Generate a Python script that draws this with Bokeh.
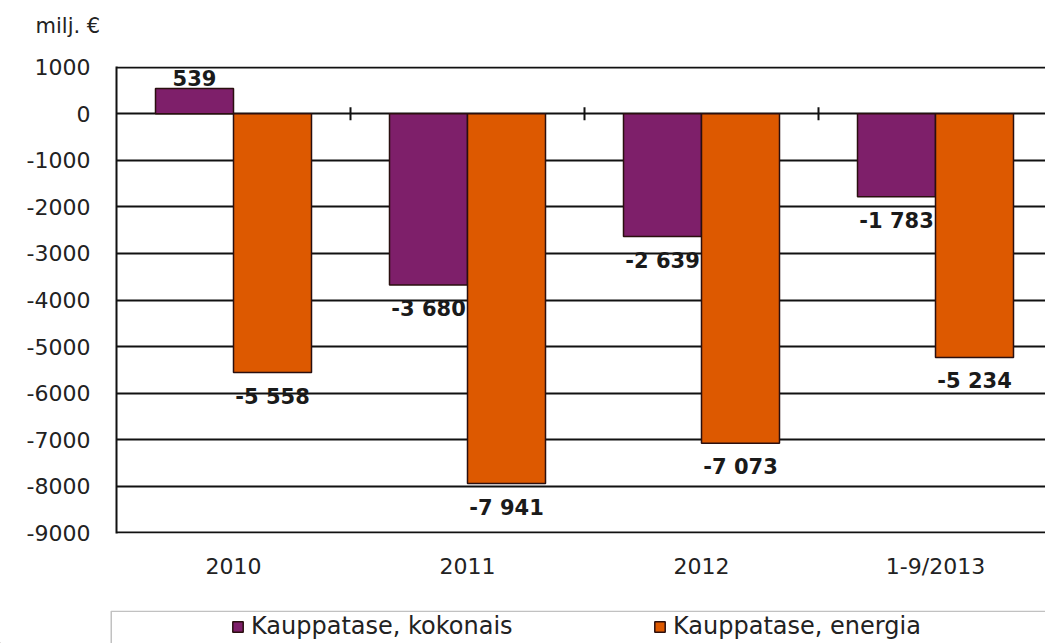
import numpy as np
from bokeh.plotting import figure
from bokeh.layouts import column
from bokeh.models import (Range1d, FixedTicker, Legend, LegendItem, Label,
                          BoxAnnotation, ColumnDataSource)
from bokeh.embed import file_html
from bokeh.resources import INLINE

# ---- data ----
categories = ["2010", "2011", "2012", "1-9/2013"]
series_names = ["Kauppatase, kokonais", "Kauppatase, energia"]
kokonais = [539, -3680, -2639, -1783]
energia = [-5558, -7941, -7073, -5234]
y_ticks = list(range(-9000, 1001, 1000))
unit_label = "milj. €"

colors = ["#7e1f6a", "#dd5900"]
FONT = "DejaVu Sans"
TXT = "#222222"
FS = "22px"

W = 1045
H_TOP, H_MAIN, H_LEG = 44, 566, 33
LEFT, TOP, BOTTOM = 116, 22, 77
cat_px = 234
frame_w = W - LEFT
pad = 12  # small y padding so the end grid lines are drawn


def strip(height):
    f = figure(width=W, height=height, output_backend="svg", toolbar_location=None,
               x_range=Range1d(0, W), y_range=Range1d(0, height),
               x_axis_type=None, y_axis_type=None,
               min_border_left=0, min_border_right=0,
               min_border_top=0, min_border_bottom=0)
    f.frame_align = False
    f.outline_line_color = None
    f.grid.grid_line_color = None
    f.background_fill_color = "white"
    f.border_fill_color = "white"
    return f

# ---- unit label strip ----
t = strip(H_TOP)
t.add_layout(Label(x=35, y=H_TOP - 25, text=unit_label, text_font=FONT,
                   text_font_size="21px", text_color=TXT, text_baseline="middle"))

# ---- main chart ----
p = figure(width=W, height=H_MAIN, output_backend="svg", toolbar_location=None,
           x_range=Range1d(0, frame_w / cat_px),
           y_range=Range1d(min(y_ticks) - pad, max(y_ticks) + pad),
           min_border_left=LEFT, min_border_top=TOP, min_border_bottom=BOTTOM,
           min_border_right=0)
p.frame_align = False
p.outline_line_color = None
p.background_fill_color = "white"
p.border_fill_color = "white"

idx = np.arange(len(categories))
centers = idx + 0.5
bw = 1 / 3

def fmt(v):
    return f"{v:,}".replace(",", " ")

for k, (vals, col) in enumerate(zip([kokonais, energia], colors)):
    xs = centers + (k - 0.5) * bw
    src = ColumnDataSource(dict(
        x=xs, top=vals,
        lbl=[fmt(v) for v in vals],
        base=["top" if v < 0 else "bottom" for v in vals],
        yoff=[12 if v < 0 else -3 for v in vals],
    ))
    p.vbar(x="x", top="top", bottom=0, width=bw, source=src,
           fill_color=col, line_color="#2a0f0f", line_width=1.5)
    p.text(x="x", y="top", text="lbl", source=src, text_align="center",
           text_baseline="base", y_offset="yoff",
           text_font={"value": FONT}, text_font_style="bold",
           text_font_size="21px", text_color="#1a1a1a")

# category boundary ticks on the zero line
bounds = idx[1:]
p.scatter(x=bounds, y=[0] * len(bounds), marker="dash", angle=np.pi / 2,
          size=13, line_color="#111111", line_width=2)

# axes
p.xaxis.ticker = FixedTicker(ticks=list(centers))
p.xaxis.major_label_overrides = {float(c): n for c, n in zip(centers, categories)}
p.xaxis.axis_line_color = None
p.xaxis.major_tick_line_color = None
p.xaxis.minor_tick_line_color = None
p.xaxis.major_label_standoff = 14
p.xaxis.major_label_text_font = FONT
p.xaxis.major_label_text_font_size = FS
p.xaxis.major_label_text_color = TXT
p.xgrid.grid_line_color = None

p.yaxis.ticker = FixedTicker(ticks=y_ticks)
p.yaxis.major_label_overrides = {t_: str(t_) for t_ in y_ticks}
p.yaxis.axis_line_color = "#111111"
p.yaxis.axis_line_width = 2
p.yaxis.major_tick_line_color = None
p.yaxis.minor_tick_line_color = None
p.yaxis.major_label_standoff = 20
p.yaxis.major_label_text_font = FONT
p.yaxis.major_label_text_font_size = FS
p.yaxis.major_label_text_color = TXT
p.ygrid.grid_line_color = "#111111"
p.ygrid.grid_line_width = 1.8

# ---- legend strip ----
q = strip(H_LEG)
q.add_layout(BoxAnnotation(left=110.75, right=W + 50, bottom=-50, top=H_LEG - 0.75,
                           fill_color=None, line_color="#333333", line_width=1.5))

# legend swatches: zero-height bars placed outside the visible strip
leg_r = [q.vbar(x=[-100], top=[0], width=1, fill_color=c, line_color="#2a0f0f", line_width=1.5)
         for c in colors]
legend = Legend(items=[LegendItem(label=n, renderers=[r]) for n, r in zip(series_names, leg_r)],
                orientation="horizontal", location=(231, 3),
                padding=0, spacing=0, margin=0, label_width=402,
                glyph_width=13, glyph_height=13, label_standoff=7,
                label_text_font=FONT, label_text_font_size="24px",
                label_text_color=TXT,
                border_line_color=None, background_fill_alpha=0)
q.add_layout(legend, "center")

layout = column(t, p, q, spacing=0)
open("out.html", "w").write(file_html(layout, INLINE))
